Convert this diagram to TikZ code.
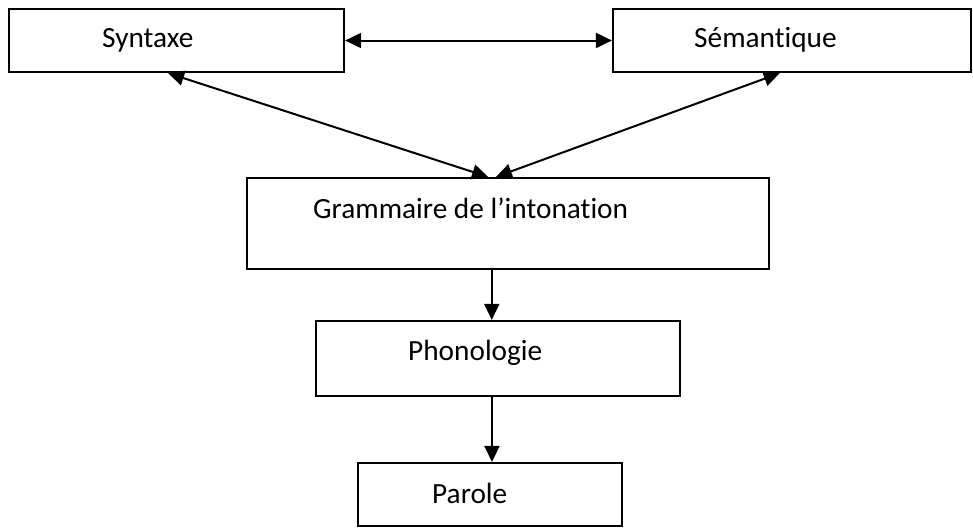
\documentclass[tikz,border=0pt]{standalone}
\usepackage{fontspec}
\setmainfont{Carlito}[Ligatures=NoCommon]
\usetikzlibrary{arrows.meta,calc}

\begin{document}
\begin{tikzpicture}[x=1pt, y=-1pt,
  box/.style={draw, rectangle, line width=2.2pt, inner sep=0pt, anchor=center},
  lbl/.style={font=\fontsize{29.3}{35}\selectfont, inner sep=0pt, anchor=base west},
  arr/.style={-{Triangle[length=16pt, width=15pt]}, line width=2pt},
  dbl/.style={{Triangle[length=16pt, width=15pt]}-{Triangle[length=16pt, width=15pt]}, line width=2pt}]
\useasboundingbox (0,0) rectangle (973,528);
% boxes
\node[box, minimum width=335pt, minimum height=63pt] (syn)  at (176.5,40.5) {};
\node[box, minimum width=358pt, minimum height=63pt] (sem)  at (792,40.5)   {};
\node[box, minimum width=522pt, minimum height=91pt] (gram) at (508,223.5)  {};
\node[box, minimum width=364pt, minimum height=75pt] (pho)  at (498,358.5)  {};
\node[box, minimum width=264pt, minimum height=63pt] (par)  at (490,494.5)  {};
% texts
\node[lbl] (synl)  at (102,47.7) {Syntaxe};
\node[lbl] (seml)  at (694,47.7) {Sémantique};
\node[lbl] (graml) at (313,218)  {Grammaire de l’intonation};
\node[lbl] (phol)  at (408,360)  {Phonologie};
\node[lbl] (parl)  at (432,503)  {Parole};
% links
\draw[dbl] (syn.east) -- (sem.west);
\draw[dbl] ($(syn.south west)!0.475!(syn.south east)$) -- ($(gram.north west)!0.462!(gram.north east)$);
\draw[dbl] ($(sem.south west)!0.466!(sem.south east)$) -- ($(gram.north west)!0.477!(gram.north east)$);
\coordinate (g1) at ($(gram.south west)!0.469!(gram.south east)$);
\coordinate (p1) at ($(pho.south west)!0.4835!(pho.south east)$);
\draw[arr] (g1) -- (g1 |- pho.north);
\draw[arr] (p1) -- (p1 |- par.north);
\end{tikzpicture}
\end{document}
